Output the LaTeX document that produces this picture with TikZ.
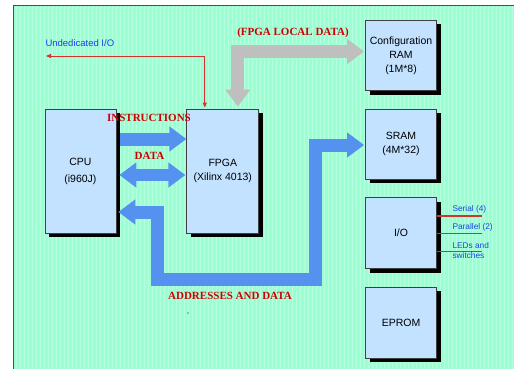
\documentclass[tikz,border=0pt]{standalone}
\usepackage{fontspec}
\setmainfont{Liberation Sans}
\newfontfamily\capsserif{Liberation Serif}
\usetikzlibrary{calc,arrows.meta,shadows}
\definecolor{sheet}{HTML}{9CFFD4}
\definecolor{boxblue}{HTML}{C2E2FF}
\definecolor{busblue}{HTML}{5592F0}
\definecolor{labelred}{HTML}{CC0000}
\definecolor{wirered}{HTML}{D83030}
\definecolor{textblue}{HTML}{1E40E6}
\tikzset{
  unit/.style={draw=black!75,line width=0.8pt,fill=boxblue,
    minimum width=71pt,minimum height=71pt,inner sep=0pt,align=center,
    font=\fontsize{10.5}{14}\selectfont,
    drop shadow={shadow xshift=4pt,shadow yshift=-4pt,fill=black,opacity=1}},
  bus/.style={busblue,line width=13pt},
  busend/.tip={Triangle[width=24pt,length=17pt]},
  wireend/.tip={Triangle[width=4pt,length=5pt]},
  localbus/.style={black!25,line width=13pt},
  wire/.style={wirered,line width=0.8pt},
  redcaps/.style={labelred,font=\capsserif\bfseries\fontsize{11}{13}\selectfont},
  bluetxt/.style={textblue,font=\fontsize{8.3}{10}\selectfont,align=left}
}

\begin{document}
\begin{tikzpicture}[x=1pt,y=-1pt]
  \useasboundingbox (0,0) rectangle (514,369);
  % sheet
  \fill[sheet] (13,6) rectangle (514,369);
  \draw[white,opacity=0.25,line width=0.3pt,step=4] (13,6) grid (514,369);
  \draw[black!70,line width=1pt] (13,369) -- (13,6) -- (514,6);

  % units
  \node[unit,minimum height=124pt] (cpu) at (80.4,171) {CPU\\[3pt](i960J)};
  \node[unit,minimum width=72pt,minimum height=124pt] (fpga) at (222.8,171) {FPGA\\(Xilinx 4013)};
  \node[unit,minimum height=70pt] (cfg) at (401,55.5) {Configuration\\RAM\\(1M*8)};
  \node[unit,minimum height=70pt] (sram) at (401,144) {SRAM\\(4M*32)};
  \node[unit] (io) at (401,233) {I/O};
  \node[unit,minimum height=71pt] (eprom) at (401,322.5) {EPROM};

  \coordinate (undio) at (46,56);
  \coordinate (serial) at (482,216);
  \coordinate (parallel) at (482,233);
  \coordinate (leds) at (482,251);

  % buses
  \draw[bus,-busend] ([xshift=4pt,yshift=32pt]cpu.east) -- ([yshift=32pt]fpga.west);
  \draw[bus,line width=12pt,busend-busend] ([xshift=3pt,yshift=-4pt]cpu.east) -- ([xshift=-1pt,yshift=-4pt]fpga.west);
  \draw[bus,busend-busend] ([xshift=2pt,yshift=-41pt]cpu.east) -| (157.5,279.7) -| (315,145) -- ([yshift=-1pt,xshift=-1pt]sram.west);
  \draw[localbus,busend-busend]
    ([xshift=15pt,yshift=2pt]fpga.north) |- ([xshift=-1pt,yshift=4pt]cfg.west);

  % wires
  \draw[wire,wireend-wireend] (undio) -| ([xshift=-18pt,yshift=1pt]fpga.north);
  \draw[wire,line width=1.6pt] ([yshift=17pt]io.east) -- (serial);
  \draw[wire] (io.east) -- (parallel);
  \draw[wire] ([yshift=-18pt]io.east) -- (leds);

  % labels
  \node[textblue,font=\fontsize{9.5}{11}\selectfont,anchor=west] (undlbl) at (42,43) {Undedicated I/O};
  \node[redcaps] (locallbl) at (293,33) {(FPGA LOCAL DATA)};
  \node[redcaps] (instrlbl) at (149,118) {INSTRUCTIONS};
  \node[redcaps] (datalbl) at (149.5,156) {DATA};
  \node[redcaps] (addrlbl) at (230,296) {ADDRESSES AND DATA};
  \node[bluetxt,anchor=west] (seriallbl) at (449,209) {Serial (4)};
  \node[bluetxt,anchor=west] (parallbl) at (449,227) {Parallel (2)};
  \node[bluetxt,anchor=west] (ledslbl) at (449,251) {LEDs and\\switches};
  \fill[blue!50!black] (188,313) circle (0.7pt);
\end{tikzpicture}
\end{document}
